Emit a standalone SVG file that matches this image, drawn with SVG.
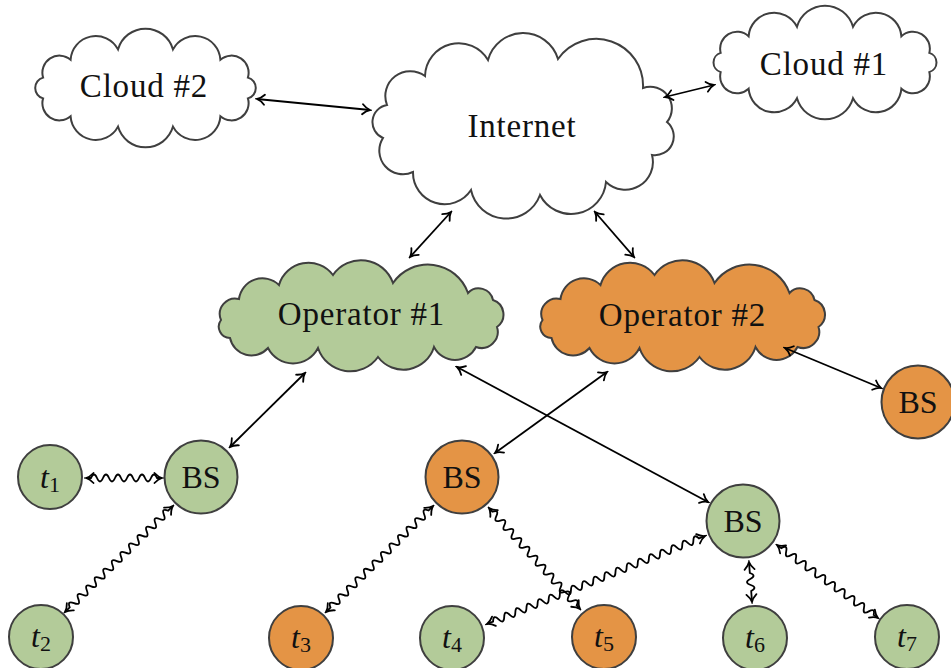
<svg xmlns="http://www.w3.org/2000/svg" width="951" height="668" viewBox="0 0 951 668">
  <style>
    .shape { stroke: #3f3f3f; stroke-width: 2; }
    .white { fill: #ffffff; }
    .green { fill: #b3cb99; }
    .orange { fill: #e49445; }
    .lbl { font-family: "Liberation Serif", "DejaVu Serif", serif; font-size: 33px; fill: #111; text-anchor: middle; letter-spacing: 0.8px; }
    .bs { font-family: "Liberation Serif", "DejaVu Serif", serif; font-size: 32px; fill: #111; text-anchor: middle; }
    .tl { font-family: "Liberation Serif", "DejaVu Serif", serif; font-size: 32px; fill: #111; text-anchor: middle; }
    .it { font-style: italic; }
    .sub { font-size: 22px; }
    .link { fill: none; stroke: #000; stroke-width: 1.8; marker-start: url(#ah); marker-end: url(#ah); }
  </style>
  <defs>
    <marker id="ah" viewBox="-10 -7 12 14" refX="0" refY="0" markerWidth="12" markerHeight="14" markerUnits="userSpaceOnUse" orient="auto-start-reverse">
      <path d="M-7.5 -5 C-4.5 -1.8 -1.8 -0.5 0 0 C-1.8 0.5 -4.5 1.8 -7.5 5" fill="none" stroke="#000" stroke-width="1.8" stroke-linecap="round"/>
    </marker>
    <path id="opCloud" d="M239 299 A23.7 23.7 0 0 1 279 285 A30.7 30.7 0 0 1 333 275 A33.9 33.9 0 0 1 393 283 A42.4 42.4 0 0 1 468 293 A14.6 14.6 0 0 1 493 300 A15.3 15.3 0 0 1 497 327 A16.2 16.2 0 0 1 476 347 A23.5 23.5 0 0 1 434 347 A31.9 31.9 0 0 1 378 357 A34 34 0 0 1 318 348 A28 28 0 0 1 268 348 A22 22 0 0 1 230 338 A11.3 11.3 0 0 1 221 320 A15.5 15.5 0 0 1 239 299 Z"/>
  </defs>

  <!-- clouds -->
  <g id="cloud2">
    <path class="shape white" d="M43.1 77.6 A17.1 17.1 0 0 1 70.6 59.7 A25.2 25.2 0 0 1 118 49.4 A28.6 28.6 0 0 1 173 49.4 A25.2 25.2 0 0 1 220.4 59.7 A17.1 17.1 0 0 1 247.9 77.6 A10.8 10.8 0 0 1 247.9 98.4 A17.1 17.1 0 0 1 220.4 116.3 A25.2 25.2 0 0 1 173 126.6 A28.6 28.6 0 0 1 118 126.6 A25.2 25.2 0 0 1 70.6 116.3 A17.1 17.1 0 0 1 43.1 98.4 A10.8 10.8 0 0 1 43.1 77.6 Z"/>
    <text class="lbl" x="144" y="97">Cloud #2</text>
  </g>
  <g id="internet">
    <path class="shape white" d="M387 105 A24.9 24.9 0 0 1 425 76 A33.8 33.8 0 0 1 488 60 A36.4 36.4 0 0 1 558 59 A46.7 46.7 0 0 1 643 88 A21.6 21.6 0 0 1 667 122 A18.8 18.8 0 0 1 652 155 A27.7 27.7 0 0 1 606 182 A35 35 0 0 1 540 195 A36 36 0 0 1 471 190 A31.6 31.6 0 0 1 413 172 A23.6 23.6 0 0 1 383 138 A17.3 17.3 0 0 1 387 105 Z"/>
    <text class="lbl" x="522" y="137">Internet</text>
  </g>
  <g id="cloud1">
    <path class="shape white" d="M720.7 52.9 A16.9 16.9 0 0 1 748.6 36.3 A25.6 25.6 0 0 1 797 26.8 A29.1 29.1 0 0 1 853 26.8 A25.6 25.6 0 0 1 901.4 36.3 A16.9 16.9 0 0 1 929.3 52.9 A10 10 0 0 1 929.3 72.1 A16.9 16.9 0 0 1 901.4 88.7 A25.6 25.6 0 0 1 853 98.2 A29.1 29.1 0 0 1 797 98.2 A25.6 25.6 0 0 1 748.6 88.7 A16.9 16.9 0 0 1 720.7 72.1 A10 10 0 0 1 720.7 52.9 Z"/>
    <text class="lbl" x="824" y="75">Cloud #1</text>
  </g>
  <g id="operator1">
    <use href="#opCloud" class="shape green"/>
    <text class="lbl" x="361.5" y="325">Operator #1</text>
  </g>
  <g id="operator2">
    <use href="#opCloud" class="shape orange" transform="translate(321.5 0)"/>
    <text class="lbl" x="682.5" y="326">Operator #2</text>
  </g>

  <!-- connectors -->
  <g id="connectors">
    <path class="link" d="M257 99 L370 110"/>
    <path class="link" d="M665 97 L714 85"/>
    <path class="link" d="M451 212 L410 257"/>
    <path class="link" d="M595 212 L634 257"/>
    <path class="link" d="M305 373 L230 447"/>
    <path class="link" d="M607 372 L495 453"/>
    <path class="link" d="M457 367 L708 502"/>
    <path class="link" d="M785 348 L881 388"/>
    <!-- wireless links -->
    <path class="link" transform="translate(86 478)" d="M0 0 h5 q3 -7 6 0 t6 0 6 0 6 0 6 0 6 0 6 0 6 0 6 0 6 0 6 0 h5"/>
    <path class="link" transform="translate(65 612) rotate(-44.5)" d="M0 0 h6.65 q3 -7 6 0 t6 0 6 0 6 0 6 0 6 0 6 0 6 0 6 0 6 0 6 0 6 0 6 0 6 0 6 0 6 0 6 0 6 0 6 0 6 0 6 0 6 0 6 0 h6.65"/>
    <path class="link" transform="translate(326 612) rotate(-44.7)" d="M0 0 h6.3 q3 -7 6 0 t6 0 6 0 6 0 6 0 6 0 6 0 6 0 6 0 6 0 6 0 6 0 6 0 6 0 6 0 6 0 6 0 6 0 6 0 6 0 6 0 6 0 6 0 h6.3"/>
    <path class="link" transform="translate(489 508) rotate(47.98)" d="M0 0 h4.95 q3 -7 6 0 t6 0 6 0 6 0 6 0 6 0 6 0 6 0 6 0 6 0 6 0 6 0 6 0 6 0 6 0 6 0 6 0 6 0 6 0 6 0 6 0 h4.95"/>
    <path class="link" transform="translate(487 624) rotate(-21.98)" d="M0 0 h6.55 q3 -7 6 0 t6 0 6 0 6 0 6 0 6 0 6 0 6 0 6 0 6 0 6 0 6 0 6 0 6 0 6 0 6 0 6 0 6 0 6 0 6 0 6 0 6 0 6 0 6 0 6 0 6 0 6 0 6 0 6 0 6 0 6 0 6 0 6 0 6 0 6 0 6 0 6 0 h6.55"/>
    <path class="link" transform="translate(749 562) rotate(85.7)" d="M0 0 h11.05 q3 -7 6 0 t6 0 6 0 h11.05"/>
    <path class="link" transform="translate(777 545) rotate(35.86)" d="M0 0 h5.3 q3 -7 6 0 t6 0 6 0 6 0 6 0 6 0 6 0 6 0 6 0 6 0 6 0 6 0 6 0 6 0 6 0 6 0 6 0 6 0 6 0 h5.3"/>
  </g>

  <!-- stations and terminals -->
  <g id="t1"><circle class="shape green" cx="50" cy="477" r="32"/><text class="tl" x="50" y="488"><tspan class="it">t</tspan><tspan class="sub" dy="4">1</tspan></text></g>
  <g id="bs1"><circle class="shape green" cx="201" cy="477" r="36.5"/><text class="bs" x="201" y="488">BS</text></g>
  <g id="t2"><circle class="shape green" cx="41" cy="637" r="32"/><text class="tl" x="41" y="647"><tspan class="it">t</tspan><tspan class="sub" dy="4">2</tspan></text></g>
  <g id="bs2"><circle class="shape orange" cx="462" cy="477" r="36.5"/><text class="bs" x="462" y="488">BS</text></g>
  <g id="t3"><circle class="shape orange" cx="301" cy="638" r="32"/><text class="tl" x="301" y="648"><tspan class="it">t</tspan><tspan class="sub" dy="4">3</tspan></text></g>
  <g id="t4"><circle class="shape green" cx="452" cy="638" r="32"/><text class="tl" x="452" y="648"><tspan class="it">t</tspan><tspan class="sub" dy="4">4</tspan></text></g>
  <g id="t5"><circle class="shape orange" cx="604" cy="637" r="32"/><text class="tl" x="604" y="647"><tspan class="it">t</tspan><tspan class="sub" dy="4">5</tspan></text></g>
  <g id="bs3"><circle class="shape green" cx="743" cy="521" r="36.5"/><text class="bs" x="743" y="532">BS</text></g>
  <g id="t6"><circle class="shape green" cx="755" cy="638" r="32"/><text class="tl" x="755" y="648"><tspan class="it">t</tspan><tspan class="sub" dy="4">6</tspan></text></g>
  <g id="t7"><circle class="shape green" cx="907" cy="637" r="32"/><text class="tl" x="907" y="647"><tspan class="it">t</tspan><tspan class="sub" dy="4">7</tspan></text></g>
  <g id="bs4"><circle class="shape orange" cx="918" cy="402" r="36.5"/><text class="bs" x="918" y="413">BS</text></g>
</svg>
